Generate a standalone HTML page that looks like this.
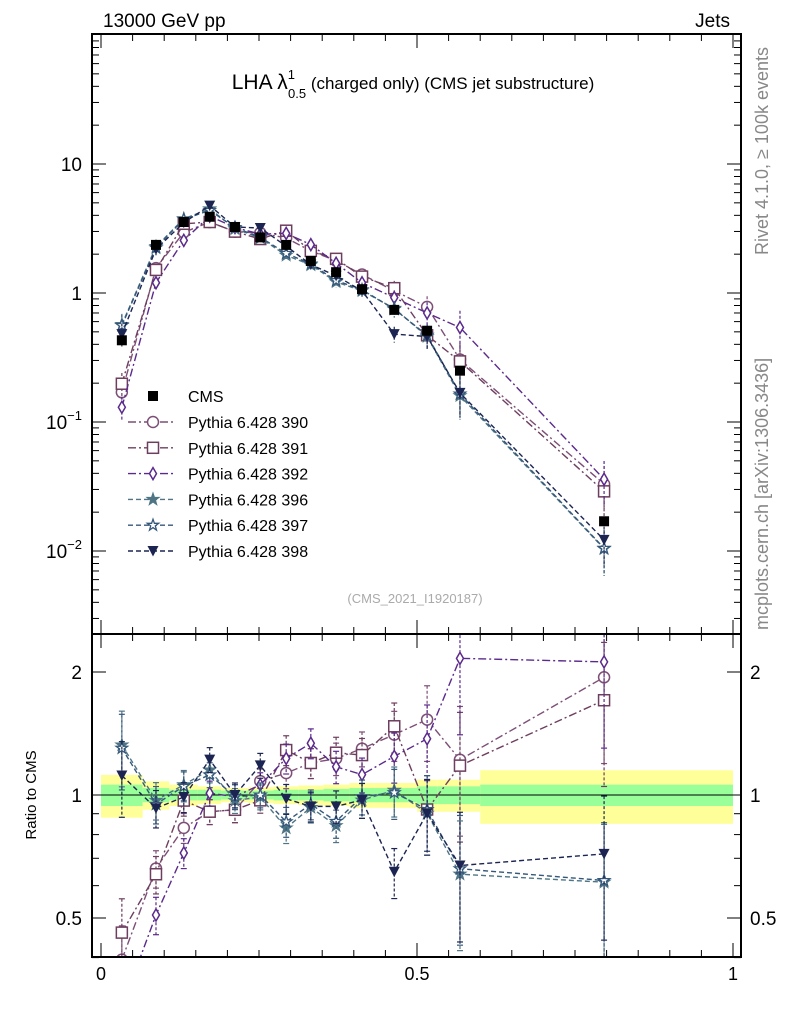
<!DOCTYPE html>
<html><head><meta charset="utf-8">
<style>
html,body{margin:0;padding:0;background:#fff;}
svg{display:block;font-family:"Liberation Sans",sans-serif;}
</style></head>
<body>
<svg id="chart" width="786" height="1024" viewBox="0 0 786 1024" xmlns="http://www.w3.org/2000/svg">
<text x="103" y="27" font-size="19">13000 GeV pp</text>
<text x="730" y="27" font-size="19" text-anchor="end">Jets</text>
<text x="413" y="89" font-size="21" text-anchor="middle">LHA λ<tspan font-size="13" dy="-10">1</tspan><tspan font-size="13" dx="-7" dy="19">0.5</tspan><tspan font-size="17" dy="-9"> (charged only) (CMS jet substructure)</tspan></text>
<text transform="translate(768,255) rotate(-90)" font-size="18" fill="#888">Rivet 4.1.0, ≥ 100k events</text>
<text transform="translate(768,630) rotate(-90)" font-size="18" fill="#888">mcplots.cern.ch [arXiv:1306.3436]</text>
<text x="415" y="603" font-size="13" fill="#aaa" text-anchor="middle">(CMS_2021_I1920187)</text>
<text transform="translate(36,795) rotate(-90)" font-size="15" text-anchor="middle">Ratio to CMS</text>
<g id="bands"></g><g id="marks"></g><g id="axes"></g><g id="legend"></g>
</svg>
<script>
const xCenters=[0.033,0.087,0.131,0.172,0.212,0.252,0.293,0.332,0.372,0.413,0.464,0.516,0.568,0.796];
const binEdges=[0,0.066,0.108,0.153,0.19,0.233,0.273,0.312,0.352,0.393,0.432,0.5,0.533,0.6,1.0];
const cmsVals=[0.43,2.36,3.55,3.9,3.25,2.7,2.36,1.77,1.45,1.07,0.74,0.51,0.25,0.017];
const bandInner=[0.06,0.04,0.03,0.03,0.025,0.025,0.03,0.03,0.035,0.04,0.04,0.05,0.05,0.06];
const bandOuter=[0.12,0.08,0.06,0.05,0.04,0.045,0.05,0.055,0.06,0.07,0.07,0.09,0.09,0.15];
const s390=[0.17,1.56,2.95,3.55,2.99,2.92,2.67,2.12,1.78,1.39,1.04,0.78,0.305,0.033];
const s391=[0.198,1.51,3.44,3.55,2.99,2.62,3.04,2.12,1.84,1.34,1.09,0.47,0.295,0.029];
const s392=[0.13,1.2,2.56,3.94,3.22,2.86,2.9,2.37,1.7,1.2,0.92,0.70,0.54,0.036];
const s396=[0.57,2.29,3.76,4.49,3.15,2.67,1.96,1.65,1.22,1.04,0.76,0.46,0.16,0.0104];
const s397=[0.56,2.24,3.73,4.37,3.22,2.7,2.03,1.68,1.25,1.06,0.75,0.47,0.165,0.0105];
const s398=[0.48,2.19,3.51,4.76,3.25,3.19,2.31,1.66,1.36,1.04,0.48,0.46,0.168,0.0122];
const relErr=[0.3,0.15,0.12,0.1,0.1,0.1,0.12,0.12,0.13,0.14,0.2,0.3,0.5,0.55];
const xTicks=[0,0.5,1];
const xTickLabels=["0","0.5","1"];

const NS="http://www.w3.org/2000/svg";
const L=92,R=741,T=34,MB=634,RB=957;
const X=v=>101+632*v;
const Y=v=>293-129*Math.log10(v);
const RY=v=>795-123*Math.log2(v);
function mk(tag,attrs,parent){const e=document.createElementNS(NS,tag);for(const k in attrs)e.setAttribute(k,attrs[k]);parent.appendChild(e);return e;}
const bands=document.getElementById('bands'),marks=document.getElementById('marks'),axes=document.getElementById('axes'),legend=document.getElementById('legend');

for(let i=0;i<xCenters.length;i++){
  const x0=X(binEdges[i]),x1=X(binEdges[i+1]);
  const y=mk('rect',{x:x0,y:RY(1+bandOuter[i]),width:x1-x0,height:RY(1-bandOuter[i])-RY(1+bandOuter[i]),fill:'#ffff99'},bands);
  
  
  const g=mk('rect',{x:x0,y:RY(1+bandInner[i]),width:x1-x0,height:RY(1-bandInner[i])-RY(1+bandInner[i]),fill:'#99ff99'},bands);
  
  
}
const ref=mk('line',{x1:X(0),x2:X(1),y1:RY(1),y2:RY(1),stroke:'#000','stroke-width':1},bands);



function marker(type,x,y,color,parent){
  let e;
  if(type==='sq') e=mk('rect',{x:x-5,y:y-5,width:10,height:10,fill:'#000'},parent);
  else if(type==='osq') e=mk('rect',{x:x-5.5,y:y-5.5,width:11,height:11,fill:'#fff',stroke:color,'stroke-width':1.5},parent);
  else if(type==='circ') e=mk('circle',{cx:x,cy:y,r:5.5,fill:'#fff',stroke:color,'stroke-width':1.5},parent);
  else if(type==='dia') e=mk('polygon',{points:`${x},${y-6} ${x+3.5},${y} ${x},${y+6} ${x-3.5},${y}`,fill:'#fff',stroke:color,'stroke-width':1.5},parent);
  else if(type==='star'||type==='ostar'){let p=[];for(let k=0;k<10;k++){const r=k%2?2.4:6,a=-Math.PI/2+k*Math.PI/5;p.push((x+r*Math.cos(a)).toFixed(1)+','+(y+r*Math.sin(a)).toFixed(1));}
    e=mk('polygon',{points:p.join(' '),fill:type==='star'?color:'#fff',stroke:color,'stroke-width':1.3},parent);}
  else if(type==='tri') e=mk('polygon',{points:`${x-5.5},${y-5} ${x+5.5},${y-5} ${x},${y+5.5}`,fill:color},parent);
  return e;
}
const series=[
 {name:'Pythia 6.428 390',vals:s390,color:'#7d4f77',mk:'circ',dash:'8,3,2,3'},
 {name:'Pythia 6.428 391',vals:s391,color:'#6e3e5e',mk:'osq',dash:'8,3,2,3'},
 {name:'Pythia 6.428 392',vals:s392,color:'#5b2a8c',mk:'dia',dash:'8,3,2,3'},
 {name:'Pythia 6.428 396',vals:s396,color:'#4f7585',mk:'star',dash:'5,3'},
 {name:'Pythia 6.428 397',vals:s397,color:'#35587a',mk:'ostar',dash:'5,3'},
 {name:'Pythia 6.428 398',vals:s398,color:'#1c2552',mk:'tri',dash:'5,3'}
];
const cm=mk('clipPath',{id:'cm'},marks);mk('rect',{x:L,y:T,width:R-L,height:MB-T},cm);
const cr=mk('clipPath',{id:'cr'},marks);mk('rect',{x:L,y:MB,width:R-L,height:RB-MB},cr);
const gm=mk('g',{'clip-path':'url(#cm)'},marks), gr=mk('g',{'clip-path':'url(#cr)'},marks);
series.forEach(s=>{
  const g1=mk('g',{},gm);
  const g2=mk('g',{},gr);
  mk('polyline',{points:s.vals.map((v,i)=>X(xCenters[i])+','+Y(v)).join(' '),fill:'none',stroke:s.color,'stroke-width':1.4,'stroke-dasharray':s.dash},g1);
  mk('polyline',{points:s.vals.map((v,i)=>X(xCenters[i])+','+RY(v/cmsVals[i])).join(' '),fill:'none',stroke:s.color,'stroke-width':1.4,'stroke-dasharray':s.dash},g2);
  s.vals.forEach((v,i)=>{
    const x=X(xCenters[i]),e=relErr[i]*0.7,r=v/cmsVals[i];
    mk('line',{x1:x,x2:x,y1:Y(v*(1+e)),y2:Y(v*(1-e)),stroke:s.color,'stroke-width':1.2,'stroke-dasharray':'3,2'},g1);
    mk('line',{x1:x,x2:x,y1:RY(r*(1+e)),y2:RY(r*(1-e)),stroke:s.color,'stroke-width':1.2,'stroke-dasharray':'3,2'},g2);
    [RY(r*(1+e)),RY(r*(1-e))].forEach(yy=>mk('line',{x1:x-3,x2:x+3,y1:yy,y2:yy,stroke:s.color,'stroke-width':1.2},g2));
    const m1=marker(s.mk,x,Y(v),s.color,g1);
    const m2=marker(s.mk,x,RY(r),s.color,g2);
  });
});
const gc=mk('g',{},gm);
cmsVals.forEach((v,i)=>{const x=X(xCenters[i]);
  mk('line',{x1:x,x2:x,y1:Y(v*1.05),y2:Y(v*0.95),stroke:'#000'},gc);
  const m=marker('sq',x,Y(v),'#000',gc);});

const f1=mk('rect',{x:L,y:T,width:R-L,height:MB-T,fill:'none',stroke:'#000','stroke-width':2},axes);

const f2=mk('rect',{x:L,y:MB,width:R-L,height:RB-MB,fill:'none',stroke:'#000','stroke-width':2},axes);

for(let k=0;k<=20;k++){const v=k*0.05,x=X(v),len=(k%10===0)?14:7;
  [T,MB].forEach(y0=>mk('line',{x1:x,x2:x,y1:y0,y2:y0+len,stroke:'#000'},axes));
  [MB,RB].forEach(y0=>mk('line',{x1:x,x2:x,y1:y0,y2:y0-len,stroke:'#000'},axes));}
xTicks.forEach((v,i)=>{const t=mk('text',{x:X(v),y:980,'font-size':18,'text-anchor':'middle'},axes);t.textContent=xTickLabels[i];
  });
for(let d=-3;d<=1;d++)for(let m=1;m<=9;m++){const v=m*Math.pow(10,d),y=Y(v);if(y<T||y>MB)continue;const len=m===1?14:7;
  mk('line',{x1:L,x2:L+len,y1:y,y2:y,stroke:'#000'},axes);mk('line',{x1:R,x2:R-len,y1:y,y2:y,stroke:'#000'},axes);}
[[10,'10'],[1,'1']].forEach(([v,s])=>{const t=mk('text',{x:82,y:Y(v)+7,'font-size':19,'text-anchor':'end'},axes);t.textContent=s;
  });
[[0.1,'−1'],[0.01,'−2']].forEach(([v,s])=>{const t=mk('text',{x:82,y:Y(v)+7,'font-size':19,'text-anchor':'end'},axes);
  t.innerHTML='10<tspan font-size="13" dy="-9">'+s+'</tspan>';});
[0.4,0.5,0.6,0.7,0.8,0.9,1,2].forEach(v=>{const y=RY(v),len=(v===0.5||v===1||v===2)?14:7;
  mk('line',{x1:L,x2:L+len,y1:y,y2:y,stroke:'#000'},axes);mk('line',{x1:R,x2:R-len,y1:y,y2:y,stroke:'#000'},axes);});
[[2,'2'],[1,'1'],[0.5,'0.5']].forEach(([v,s])=>{
  const t=mk('text',{x:82,y:RY(v)+7,'font-size':19,'text-anchor':'end'},axes);t.textContent=s;
  const t2=mk('text',{x:750,y:RY(v)+7,'font-size':19},axes);t2.textContent=s;});
const cmsL=mk('g',{},legend);
marker('sq',153,396,'#000',cmsL);
const ct=mk('text',{x:188,y:402,'font-size':16},cmsL);ct.textContent='CMS';
series.forEach((s,i)=>{const y=422+i*25.8;
  const g=mk('g',{},legend);
  mk('line',{x1:128,x2:176,y1:y,y2:y,stroke:s.color,'stroke-width':1.4,'stroke-dasharray':s.dash},g);
  marker(s.mk,153,y,s.color,g);
  const t=mk('text',{x:188,y:y+6,'font-size':16},g);t.textContent=s.name;});
</script>
</body></html>
